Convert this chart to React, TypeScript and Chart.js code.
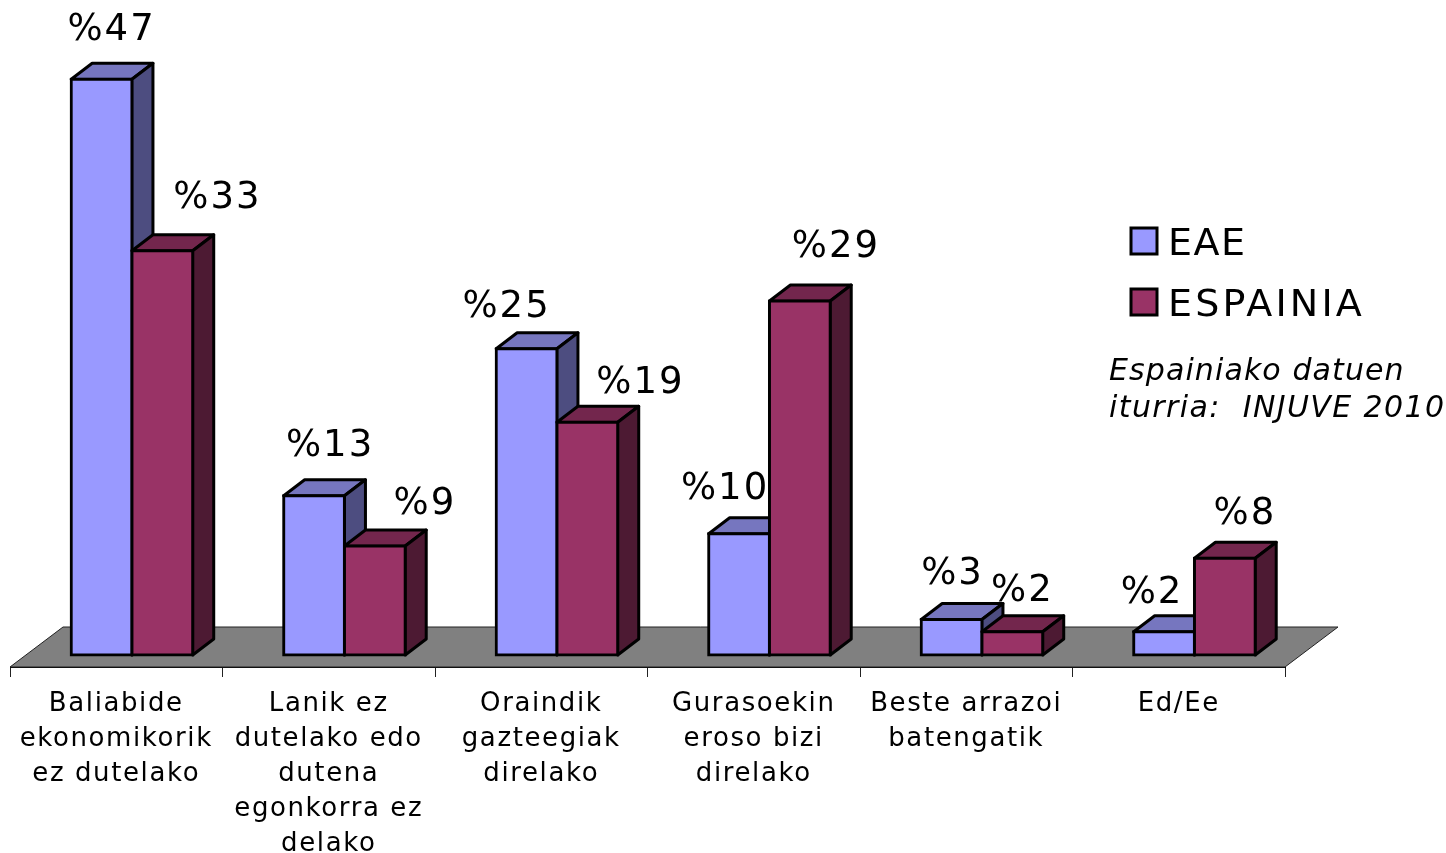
import React, { useEffect, useRef } from "react";
import { Chart, registerables } from "chart.js";

Chart.register(...registerables);

const categories: string[][] = [
  ["Baliabide", "ekonomikorik", "ez dutelako"],
  ["Lanik ez", "dutelako edo", "dutena", "egonkorra ez", "delako"],
  ["Oraindik", "gazteegiak", "direlako"],
  ["Gurasoekin", "eroso bizi", "direlako"],
  ["Beste arrazoi", "batengatik"],
  ["Ed/Ee"],
];
const eaeValues = [47, 13, 25, 9.9, 2.9, 1.9];
const espainiaValues = [33, 8.9, 19, 28.9, 1.9, 7.9];
const eaeLabels = ["%47", "%13", "%25", "%10", "%3", "%2"];
const espainiaLabels = ["%33", "%9", "%19", "%29", "%2", "%8"];
const noteLines = ["Espainiako datuen", "iturria:  INJUVE 2010"];

const FONT = '"DejaVu Sans"';
const DEPTH_X = 21;
const DEPTH_Y = 16;
const BAR_SHIFT = 15.7;

const styles = [
  { front: "#9999FF", top: "#7676BF", side: "#4D4D80" },
  { front: "#993366", top: "#73264D", side: "#4D1A33" },
];
// label placement relative to the bar top centre
const labelNudges = [
  [[10, -49], [16, -49], [-20, -41], [-14, -44], [1, -45], [-12, -38]],
  [[55, -52], [50, -42], [53, -39], [36, -54], [10, -40], [20, -44]],
];
const labelSets = [eaeLabels, espainiaLabels];
const legendSpacing = ["1.5px", "3.2px"];

function drawDepth(ctx: any, meta: any, s: any) {
  ctx.save();
  ctx.lineWidth = 3;
  ctx.strokeStyle = "#000";
  ctx.lineJoin = "round";
  for (const bar of meta.data) {
    const l = bar.x - bar.width / 2;
    const r = bar.x + bar.width / 2;
    const t = bar.y;
    const b = bar.base;
    ctx.beginPath();
    ctx.moveTo(l, t);
    ctx.lineTo(l + DEPTH_X, t - DEPTH_Y);
    ctx.lineTo(r + DEPTH_X, t - DEPTH_Y);
    ctx.lineTo(r, t);
    ctx.closePath();
    ctx.fillStyle = s.top;
    ctx.fill();
    ctx.stroke();
    ctx.beginPath();
    ctx.moveTo(r, t);
    ctx.lineTo(r + DEPTH_X, t - DEPTH_Y);
    ctx.lineTo(r + DEPTH_X, b - DEPTH_Y);
    ctx.lineTo(r, b);
    ctx.closePath();
    ctx.fillStyle = s.side;
    ctx.fill();
    ctx.stroke();
  }
  ctx.restore();
}

const threeD = {
  id: "threeD",
  beforeDraw(chart: any) {
    chart.ctx.letterSpacing = "1.6px";
  },
  beforeDatasetsDraw(chart: any) {
    const { ctx, chartArea: a } = chart;
    ctx.save();
    ctx.beginPath();
    ctx.moveTo(a.left, a.bottom);
    ctx.lineTo(a.left + 53, a.bottom - 40);
    ctx.lineTo(a.right + 53, a.bottom - 40);
    ctx.lineTo(a.right, a.bottom);
    ctx.closePath();
    ctx.fillStyle = "#808080";
    ctx.fill();
    ctx.strokeStyle = "#222";
    ctx.lineWidth = 1;
    ctx.stroke();
    ctx.restore();
  },
  // The library paints the last dataset first; here the back bar must go first.
  beforeDatasetDraw() {
    return false;
  },
  afterDatasetsDraw(chart: any) {
    const { ctx } = chart;
    ctx.save();
    ctx.translate(BAR_SHIFT, 0);
    chart.data.datasets.forEach((_: any, di: number) => {
      const meta = chart.getDatasetMeta(di);
      drawDepth(ctx, meta, styles[di]);
      meta.controller.draw();
    });
    ctx.restore();

    ctx.save();
    ctx.fillStyle = "#000";
    ctx.textBaseline = "middle";
    ctx.textAlign = "center";
    ctx.font = `37px ${FONT}`;
    ctx.letterSpacing = "2px";
    chart.data.datasets.forEach((_: any, di: number) => {
      chart.getDatasetMeta(di).data.forEach((bar: any, i: number) => {
        const [dx, dy] = labelNudges[di][i];
        ctx.fillText(labelSets[di][i], bar.x + BAR_SHIFT + dx, bar.y + dy);
      });
    });
    // legend
    ctx.textAlign = "left";
    ctx.textBaseline = "alphabetic";
    ctx.font = `38px ${FONT}`;
    const legendY = [228, 289];
    chart.data.datasets.forEach((d: any, di: number) => {
      ctx.fillStyle = styles[di].front;
      ctx.strokeStyle = "#000";
      ctx.lineWidth = 3;
      ctx.fillRect(1131, legendY[di], 26, 26);
      ctx.strokeRect(1131, legendY[di], 26, 26);
      ctx.fillStyle = "#000";
      ctx.letterSpacing = legendSpacing[di];
      ctx.fillText(d.label, 1168, legendY[di] + 27);
    });
    // source note
    ctx.font = `italic 30px ${FONT}`;
    ctx.letterSpacing = "1.1px";
    ctx.fillText(noteLines[0], 1109, 380);
    ctx.letterSpacing = "1.4px";
    ctx.fillText(noteLines[1], 1109, 417);
    ctx.restore();
  },
};

export default function App() {
  const ref = useRef<HTMLCanvasElement>(null);
  useEffect(() => {
    document.body.style.margin = "0";
    const chart = new Chart(ref.current!, {
      type: "bar",
      data: {
        labels: categories,
        datasets: [
          { label: "EAE", data: eaeValues, backgroundColor: styles[0].front },
          { label: "ESPAINIA", data: espainiaValues, backgroundColor: styles[1].front },
        ],
      },
      options: {
        responsive: false,
        animation: false,
        layout: { padding: { left: 10, right: 161, top: 0, bottom: 0 } },
        datasets: {
          bar: {
            categoryPercentage: 0.572,
            barPercentage: 1,
            borderColor: "#000",
            borderWidth: 3,
            borderSkipped: false,
            inflateAmount: 1.5,
          },
        },
        plugins: { legend: { display: false }, tooltip: { enabled: false } },
        scales: {
          x: {
            afterFit(scale: any) {
              scale.height = 186;
            },
            border: { display: true, color: "#000", width: 1 },
            grid: {
              offset: true,
              drawOnChartArea: false,
              drawTicks: true,
              tickLength: 10,
              color: "#222",
            },
            ticks: {
              autoSkip: false,
              maxRotation: 0,
              minRotation: 0,
              padding: 10,
              color: "#000",
              font: { family: FONT, size: 26, lineHeight: "35px" },
            },
          },
          y: { display: false, min: -0.98, max: 53.47 },
        },
      },
      plugins: [threeD],
    } as any);
    return () => chart.destroy();
  }, []);
  return <canvas ref={ref} width={1446} height={853} style={{ display: "block" }} />;
}
